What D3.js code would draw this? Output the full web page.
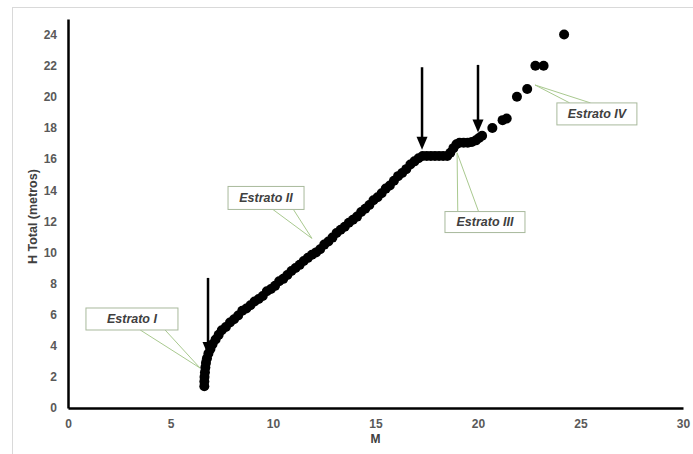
<!DOCTYPE html>
<html>
<head>
<meta charset="utf-8">
<script src="https://cdn.jsdelivr.net/npm/d3@7"></script>
<style>
  html, body { margin: 0; padding: 0; background: #fff; }
  svg { display: block; font-family: 'Liberation Sans', Arial, sans-serif; }
</style>
</head>
<body>
<svg id="chart" width="693" height="454"></svg>
<script>
// M (x) and H Total (y)
const mValues = [
  6.65, 6.65, 6.66, 6.68, 6.70, 6.73, 6.78, 6.85, 6.95, 7.05, 7.20, 7.35, 7.50, 7.70, 7.90,
  8.10, 8.30, 8.50, 8.70, 8.90, 9.10, 9.30, 9.50, 9.70, 9.90, 10.10, 10.30, 10.50, 10.70, 10.90,
  11.10, 11.30, 11.50, 11.70, 11.90, 12.10, 12.30, 12.50, 12.70, 12.90, 13.10, 13.30, 13.50, 13.70, 13.90,
  14.10, 14.30, 14.50, 14.70, 14.90, 15.10, 15.30, 15.50, 15.70, 15.90, 16.10, 16.30, 16.50, 16.70, 16.90,
  17.10, 17.30, 17.50, 17.70, 17.90, 18.10, 18.30, 18.50, 18.65, 18.80, 18.95, 19.10, 19.30, 19.50, 19.70,
  19.90, 20.05, 20.20, 20.70, 21.20, 21.40, 21.90, 22.40, 22.80, 23.20, 24.20
]
const hValues = [
  1.40, 1.70, 2.00, 2.30, 2.60, 2.90, 3.20, 3.50, 3.80, 4.10, 4.40, 4.70, 5.00, 5.20, 5.50,
  5.70, 5.95, 6.25, 6.40, 6.60, 6.85, 7.00, 7.20, 7.50, 7.65, 7.85, 8.15, 8.30, 8.55, 8.80,
  9.00, 9.20, 9.45, 9.65, 9.85, 10.00, 10.20, 10.50, 10.70, 10.95, 11.25, 11.45, 11.65, 11.90, 12.10,
  12.30, 12.60, 12.80, 13.05, 13.35, 13.55, 13.80, 14.10, 14.30, 14.60, 14.90, 15.10, 15.35, 15.65, 15.85,
  16.05, 16.20, 16.20, 16.20, 16.20, 16.20, 16.20, 16.20, 16.40, 16.70, 16.95, 17.05, 17.05, 17.05, 17.10,
  17.20, 17.35, 17.50, 18.00, 18.50, 18.60, 20.00, 20.50, 22.00, 22.00, 24.00
]
const xTicks = [0, 5, 10, 15, 20, 25, 30]
const yTicks = [0, 2, 4, 6, 8, 10, 12, 14, 16, 18, 20, 22, 24]

// arrows: x, top, tip (data units)
const arrowM = [6.83, 17.27, 20.0]
const arrowTop = [8.36, 21.9, 22.05]
const arrowTip = [3.4, 16.6, 17.7]

// callouts: label, box centre, pointer tip (data units)
const calloutText = ['Estrato I', 'Estrato II', 'Estrato III', 'Estrato IV']
const calloutM = [3.12, 9.66, 20.34, 25.8]
const calloutH = [5.72, 13.5, 11.95, 18.9]
const tipM = [6.44, 11.9, 18.98, 22.78]
const tipH = [2.57, 10.9, 16.4, 20.76]

const svg = d3.select('#chart')
const width = 693
const height = 454
const margin = { top: 19, right: 10, bottom: 46, left: 68 }

svg.append('rect')
  .attr('x', 12.5).attr('y', 7.5)
  .attr('width', width).attr('height', height)
  .attr('fill', 'none').attr('stroke', '#d9d9d9')

const x = d3.scaleLinear().domain([0, 30]).range([margin.left, 683])
const y = d3.scaleLinear().domain([0, 25]).range([height - margin.bottom, margin.top])

const xAxis = svg.append('g')
  .attr('transform', `translate(0,${y(0)})`)
  .call(d3.axisBottom(x).tickValues(xTicks).tickSize(0).tickPadding(11))
const yAxis = svg.append('g')
  .attr('transform', `translate(${x(0)},0)`)
  .call(d3.axisLeft(y).tickValues(yTicks).tickSize(0).tickPadding(11))

;[xAxis, yAxis].forEach((g) => {
  g.select('.domain').attr('stroke', '#000').attr('stroke-width', 2.5)
  g.selectAll('text')
    .attr('fill', '#595959')
    .attr('font-size', 12)
    .attr('font-weight', 'bold')
    .attr('font-family', "'Liberation Sans', Arial, sans-serif")
})

svg.append('text')
  .attr('x', x(15)).attr('y', 443)
  .attr('text-anchor', 'middle')
  .attr('font-size', 12).attr('font-weight', 'bold').attr('fill', '#404040')
  .text('M')

svg.append('text')
  .attr('transform', `translate(37,${y(12.3)}) rotate(-90)`)
  .attr('text-anchor', 'middle')
  .attr('font-size', 12.5).attr('font-weight', 'bold').attr('fill', '#404040')
  .text('H Total (metros)')

// points
const points = mValues.map((m, i) => ({ m, h: hValues[i] }))
svg.append('g')
  .selectAll('circle')
  .data(points)
  .join('circle')
  .attr('cx', (d) => x(d.m))
  .attr('cy', (d) => y(d.h))
  .attr('r', 5)
  .attr('fill', '#000')

// arrows
const arrows = arrowM.map((m, i) => ({ m, top: arrowTop[i], tip: arrowTip[i] }))
const arrowGroup = svg.append('g')
arrowGroup.selectAll('line')
  .data(arrows)
  .join('line')
  .attr('x1', (d) => x(d.m)).attr('x2', (d) => x(d.m))
  .attr('y1', (d) => y(d.top)).attr('y2', (d) => y(d.tip) - 10)
  .attr('stroke', '#000').attr('stroke-width', 2.5)
arrowGroup.selectAll('path')
  .data(arrows)
  .join('path')
  .attr('d', (d) => {
    const cx = x(d.m)
    const ty = y(d.tip)
    return `M${cx - 5.5},${ty - 13}L${cx + 5.5},${ty - 13}L${cx},${ty}Z`
  })
  .attr('fill', '#000')

// callouts
const boxW = [92, 76, 80, 80]
const boxH = [22, 23, 21, 22]
const callouts = calloutText.map((t, i) => ({
  t, cx: x(calloutM[i]), cy: y(calloutH[i]), tx: x(tipM[i]), ty: y(tipH[i]), w: boxW[i], h: boxH[i]
}))
const calloutGroup = svg.append('g')
callouts.forEach((c) => {
  const below = c.ty > c.cy
  const baseY = below ? c.cy + c.h / 2 : c.cy - c.h / 2
  const left = c.cx - c.w / 2
  const f = below ? [0.59, 0.86] : [0.16, 0.42]
  const g = calloutGroup.append('g')
  g.append('path')
    .attr('d', `M${left + c.w * f[0]},${baseY}L${c.tx},${c.ty}L${left + c.w * f[1]},${baseY}`)
    .attr('fill', '#fff')
    .attr('stroke', '#a9c98f').attr('stroke-width', 1)
  g.append('rect')
    .attr('x', left).attr('y', c.cy - c.h / 2)
    .attr('width', c.w).attr('height', c.h)
    .attr('fill', '#fff')
    .attr('stroke', '#a8b99c').attr('stroke-width', 1)
  g.append('text')
    .attr('x', c.cx).attr('y', c.cy)
    .attr('dy', '0.35em')
    .attr('text-anchor', 'middle')
    .attr('font-size', 12.5).attr('font-weight', 'bold').attr('font-style', 'italic')
    .attr('fill', '#404040')
    .text(c.t)
})
</script>
</body>
</html>
